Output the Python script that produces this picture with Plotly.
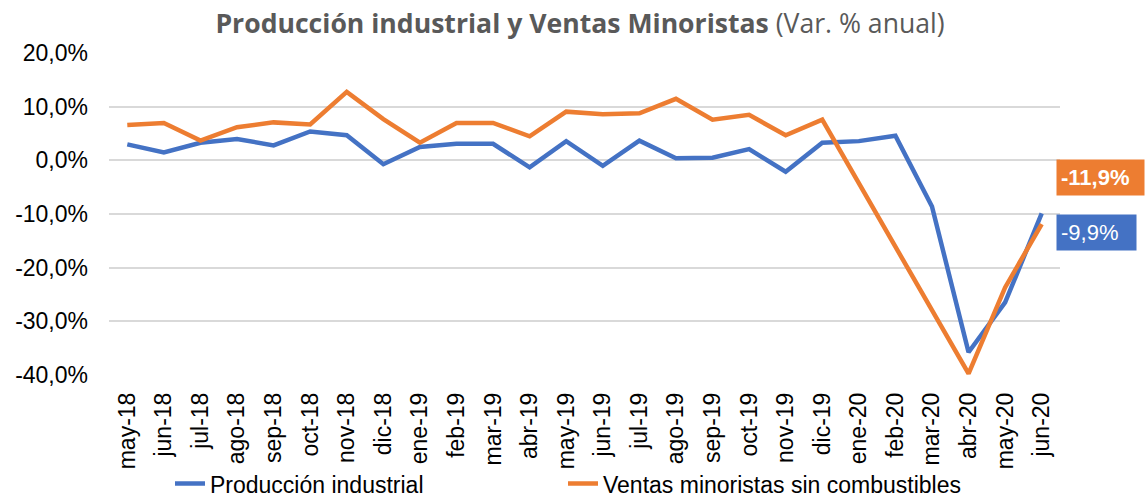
import plotly.graph_objects as go

categories = ["may-18", "jun-18", "jul-18", "ago-18", "sep-18", "oct-18", "nov-18", "dic-18",
              "ene-19", "feb-19", "mar-19", "abr-19", "may-19", "jun-19", "jul-19", "ago-19",
              "sep-19", "oct-19", "nov-19", "dic-19", "ene-20", "feb-20", "mar-20", "abr-20",
              "may-20", "jun-20"]

produccion_industrial = [3.0, 1.5, 3.3, 4.0, 2.8, 5.4, 4.7, -0.7, 2.5, 3.1,
                         3.1, -1.3, 3.6, -1.0, 3.7, 0.4, 0.5, 2.1, -2.1, 3.3,
                         3.6, 4.6, -8.6, -35.8, -26.5, -9.9]

ventas_minoristas = [6.6, 7.0, 3.7, 6.2, 7.1, 6.7, 12.8, 7.7, 3.3, 7.0,
                     7.0, 4.5, 9.1, 8.6, 8.8, 11.5, 7.6, 8.5, 4.7, 7.6,
                     None, None, None, -39.8, -23.7, -11.9]

y_tickvals = [20, 10, 0, -10, -20, -30, -40]
y_ticktext = ["20,0%", "10,0%", "0,0%", "-10,0%", "-20,0%", "-30,0%", "-40,0%"]

BLUE = "#4472C4"
ORANGE = "#ED7D31"


def fmt(v):
    return f"{v:.1f}".replace(".", ",") + "%"


fig = go.Figure()
fig.add_trace(go.Scatter(x=categories, y=produccion_industrial, mode="lines",
                         name="Producción industrial", legend="legend",
                         line=dict(color=BLUE, width=4.5)))
fig.add_trace(go.Scatter(x=categories, y=ventas_minoristas, mode="lines",
                         name="Ventas minoristas sin combustibles", connectgaps=True,
                         legend="legend2",
                         line=dict(color=ORANGE, width=4.5)))

fig.add_annotation(x=categories[-1], y=ventas_minoristas[-1], xref="x", yref="y",
                   text="<b>" + fmt(ventas_minoristas[-1]) + "</b>", showarrow=False,
                   xanchor="left", yanchor="middle", xshift=14, yshift=47,
                   bgcolor=ORANGE, font=dict(family="Liberation Sans", size=22, color="white"),
                   borderpad=4, width=79, height=27, align="left")
fig.add_annotation(x=categories[-1], y=produccion_industrial[-1], xref="x", yref="y",
                   text=fmt(produccion_industrial[-1]), showarrow=False,
                   xanchor="left", yanchor="middle", xshift=14, yshift=-19,
                   bgcolor=BLUE, font=dict(family="Liberation Sans", size=22, color="white"),
                   borderpad=4, width=71, height=27, align="left")

legend_font = dict(family="Liberation Sans", size=23, color="black")
legend_y = (374.5 - 483) / 321.5

fig.update_layout(
    width=1145, height=500,
    margin=dict(l=109, r=85, t=53, b=125, autoexpand=False),
    paper_bgcolor="white", plot_bgcolor="white",
    title=dict(
        text="<b>Producción industrial y Ventas Minoristas</b> (Var. % anual)",
        font=dict(family="Open Sans", size=26.6, color="#595959"),
        x=580 / 1145, xref="container", xanchor="center",
        y=1 - 24 / 500, yref="container", yanchor="middle"),
    showlegend=True,
    legend=dict(orientation="h", x=(170 - 109) / 951, xanchor="left",
                y=legend_y, yanchor="middle", font=legend_font,
                bgcolor="rgba(0,0,0,0)"),
    legend2=dict(orientation="h", x=(563 - 109) / 951, xanchor="left",
                 y=legend_y, yanchor="middle", font=legend_font,
                 bgcolor="rgba(0,0,0,0)"),
    xaxis=dict(type="category", range=[-0.5, len(categories) - 0.5],
               tickangle=-90, showgrid=False, showline=False,
               ticks="", ticklabelstandoff=12, automargin=False,
               tickfont=dict(family="Liberation Sans", size=23, color="black")),
    yaxis=dict(range=[-40.05, 20.05], tickvals=y_tickvals, ticktext=y_ticktext,
               showgrid=True, gridcolor="#D9D9D9", gridwidth=1.5, zeroline=False,
               showline=False, ticks="", ticklabelstandoff=20, automargin=False,
               tickfont=dict(family="Liberation Sans", size=23, color="black")),
)

fig.write_html("out.html", config={"displayModeBar": False},
               post_script="document.body.style.margin='0';")
